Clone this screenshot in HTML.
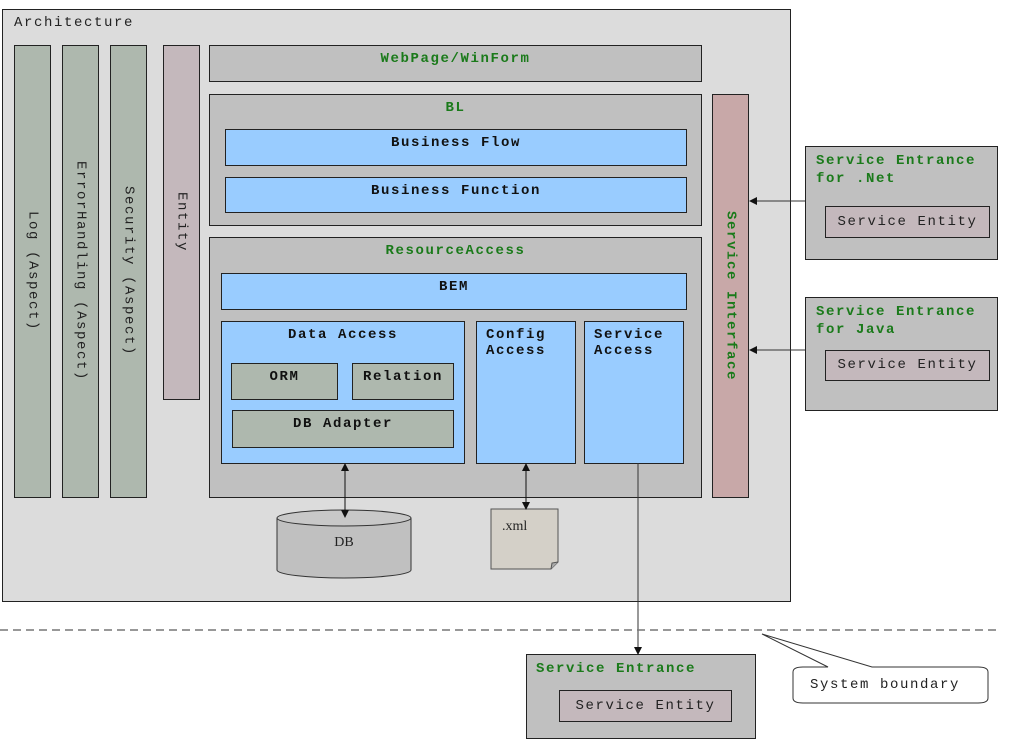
<!DOCTYPE html>
<html><head><meta charset="utf-8"><style>
body{margin:0;width:1018px;height:744px;background:#fff;position:relative;overflow:hidden;font-family:"Liberation Mono",monospace;font-size:14px;letter-spacing:1.6px}
.b{position:absolute;box-sizing:border-box;border:1px solid #222;}
.g{background:#c0c0c0}
.bl{background:#99ccff}
.gr{background:#aeb8ae}
.pk{background:#c4b8bc}
.t{font-weight:bold;color:#1a7a1a;text-align:center;line-height:16px;padding-top:5px}
.n{font-weight:bold;color:#111;text-align:center;line-height:16px;padding-top:5px}
.v{writing-mode:vertical-rl;display:flex;align-items:center;justify-content:center;color:#222}
.l{position:absolute;line-height:18px}
</style></head><body>
<div class="b" style="left:2px;top:9px;width:789px;height:593px;background:#dcdcdc"></div>
<div class="l" style="left:14px;top:14px;color:#222">Architecture</div>
<div class="b gr v" style="left:14px;top:45px;width:37px;height:453px">Log (Aspect)</div>
<div class="b gr v" style="left:62px;top:45px;width:37px;height:453px">ErrorHandling (Aspect)</div>
<div class="b gr v" style="left:110px;top:45px;width:37px;height:453px">Security (Aspect)</div>
<div class="b pk v" style="left:163px;top:45px;width:37px;height:355px">Entity</div>
<div class="b g t" style="left:209px;top:45px;width:493px;height:37px">WebPage/WinForm</div>
<div class="b g t" style="left:209px;top:94px;width:493px;height:132px">BL</div>
<div class="b bl n" style="left:225px;top:129px;width:462px;height:37px">Business Flow</div>
<div class="b bl n" style="left:225px;top:177px;width:462px;height:36px">Business Function</div>
<div class="b g t" style="left:209px;top:237px;width:493px;height:261px">ResourceAccess</div>
<div class="b bl n" style="left:221px;top:273px;width:466px;height:37px">BEM</div>
<div class="b bl n" style="left:221px;top:321px;width:244px;height:143px">Data Access</div>
<div class="b gr n" style="left:231px;top:363px;width:107px;height:37px">ORM</div>
<div class="b gr n" style="left:352px;top:363px;width:102px;height:37px">Relation</div>
<div class="b gr n" style="left:232px;top:410px;width:222px;height:38px">DB Adapter</div>
<div class="b bl n" style="left:476px;top:321px;width:100px;height:143px;text-align:left;padding-left:9px">Config<br>Access</div>
<div class="b bl n" style="left:584px;top:321px;width:100px;height:143px;text-align:left;padding-left:9px">Service<br>Access</div>
<div class="b v" style="left:712px;top:94px;width:37px;height:404px;background:#c8a8a8;color:#1a7a1a;font-weight:bold">Service Interface</div>

<div class="b g" style="left:805px;top:146px;width:193px;height:114px"></div>
<div class="l" style="left:816px;top:152px;color:#1a7a1a;font-weight:bold">Service Entrance<br>for .Net</div>
<div class="b pk" style="left:825px;top:206px;width:165px;height:32px;text-align:center;line-height:30px;color:#222">Service Entity</div>
<div class="b g" style="left:805px;top:297px;width:193px;height:114px"></div>
<div class="l" style="left:816px;top:303px;color:#1a7a1a;font-weight:bold">Service Entrance<br>for Java</div>
<div class="b pk" style="left:825px;top:350px;width:165px;height:31px;text-align:center;line-height:29px;color:#222">Service Entity</div>

<div class="b g" style="left:526px;top:654px;width:230px;height:85px"></div>
<div class="l" style="left:536px;top:660px;color:#1a7a1a;font-weight:bold">Service Entrance</div>
<div class="b pk" style="left:559px;top:690px;width:173px;height:32px;text-align:center;line-height:30px;color:#222">Service Entity</div>

<svg style="position:absolute;left:0;top:0" width="1018" height="744">
<defs><marker id="a" markerWidth="8" markerHeight="8" refX="7" refY="4" orient="auto-start-reverse" markerUnits="userSpaceOnUse"><path d="M0,0L8,4L0,8z" fill="#111"/></marker></defs>
<path d="M277,518 L277,570 A67,8 0 0 0 411,570 L411,518" fill="#c0c0c0" stroke="#333"/>
<ellipse cx="344" cy="518" rx="67" ry="8" fill="#c8c8c8" stroke="#333"/>
<text x="344" y="546" text-anchor="middle" font-family="Liberation Serif" font-size="14" letter-spacing="0" fill="#222">DB</text>
<path d="M491,509 L558,509 L558,562 L551,569 L491,569 Z" fill="#d4d0c8" stroke="#555"/>
<path d="M551,569 L552,563 L558,562" fill="#aaa" stroke="#555"/>
<text x="502" y="530" font-family="Liberation Serif" font-size="14" letter-spacing="0" fill="#222">.xml</text>
<line x1="805" y1="201" x2="750" y2="201" stroke="#333" marker-end="url(#a)"/>
<line x1="805" y1="350" x2="750" y2="350" stroke="#333" marker-end="url(#a)"/>
<line x1="345" y1="464" x2="345" y2="517" stroke="#111" marker-start="url(#a)" marker-end="url(#a)"/>
<line x1="526" y1="464" x2="526" y2="509" stroke="#111" marker-start="url(#a)" marker-end="url(#a)"/>
<line x1="638" y1="463" x2="638" y2="654" stroke="#333" marker-end="url(#a)"/>
<line x1="0" y1="630" x2="1000" y2="630" stroke="#777" stroke-width="1.5" stroke-dasharray="8,5"/>
<path d="M828,667 L762,634 L872,667 L978,667 Q988,667 988,672 L988,698 Q988,703 978,703 L803,703 Q793,703 793,698 L793,672 Q793,667 803,667 Z" fill="#fff" stroke="#333"/>
<text x="810" y="688" font-family="Liberation Mono" font-size="14" letter-spacing="1.6" fill="#222">System boundary</text>
</svg>
</body></html>
